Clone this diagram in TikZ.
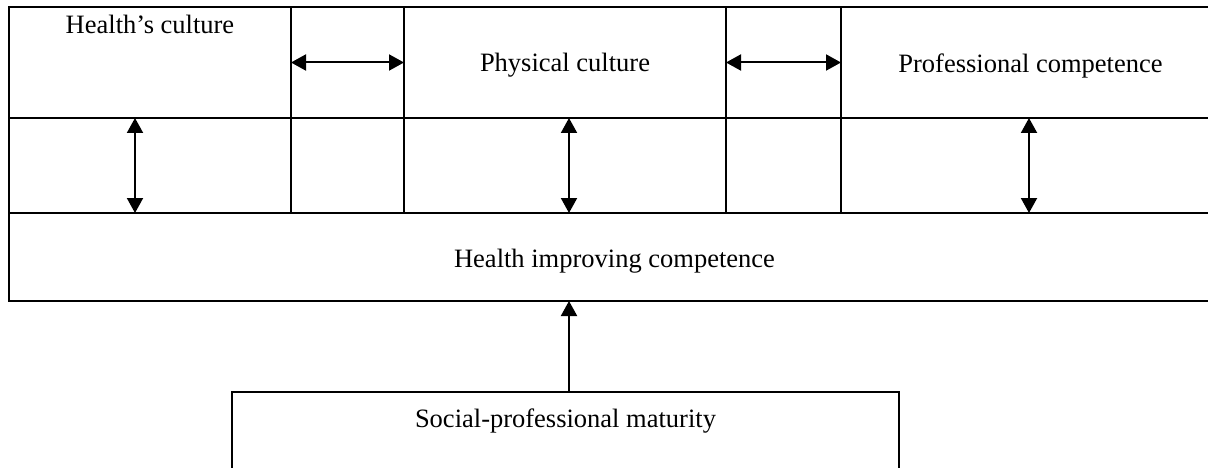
\documentclass[tikz,border=0pt]{standalone}
\usepackage{fontspec}
\setmainfont{Liberation Serif}
\usetikzlibrary{arrows.meta,positioning}
\tikzset{
	cell/.style={draw,rectangle,line width=2pt,inner sep=0pt,outer sep=0pt,anchor=north west},
	dbl/.style={{Triangle[length=15pt,width=16pt]}-{Triangle[length=15pt,width=16pt]},line width=2pt},
	up/.style={-{Triangle[length=15pt,width=16pt]},line width=2pt}
}

\begin{document}
\begin{tikzpicture}[x=1pt,y=-1pt,every node/.style={font=\fontsize{26.5}{30}\selectfont,inner sep=0pt}]
				\clip (0,0) rectangle (1208,468);
				% Arrow lines
				\coordinate (la) at (135,0);
				\coordinate (ma) at (569,0);
				\coordinate (ra) at (1029,0);

				% First row
				\node[cell,minimum width=282pt,minimum height=111pt] (hc) at (9,7) {};
				\node[below=7.7pt of hc.north] (hctext) {Health’s culture};
				\node[cell,minimum width=113pt,minimum height=111pt,right=0pt of hc] (ga) {};
				\node[cell,minimum width=322pt,minimum height=111pt,right=0pt of ga] (pc) {};
				\node[yshift=-3pt] (pctext) at (pc) {Physical culture};
				\node[cell,minimum width=115pt,minimum height=111pt,right=0pt of pc] (gb) {};
				\node[cell,minimum width=379pt,minimum height=111pt,right=0pt of gb] (prc) {};
				\node[yshift=-3pt] (prctext) at (prc) {Professional competence};

				% Second row
				\node[cell,minimum width=282pt,minimum height=95pt,below=0pt of hc] (ha) {};
				\node[cell,minimum width=113pt,minimum height=95pt,below=0pt of ga] (gc) {};
				\node[cell,minimum width=322pt,minimum height=95pt,below=0pt of pc] (pa) {};
				\node[cell,minimum width=115pt,minimum height=95pt,below=0pt of gb] (gd) {};
				\node[cell,minimum width=379pt,minimum height=95pt,below=0pt of prc] (pra) {};

				% Third row
				\node[cell,minimum width=1211pt,minimum height=88pt] (hic) at (ha.south west) {};
				\node[yshift=-4pt] (hictext) at (hic) {Health improving competence};

				% Bottom box
				\node[cell,minimum width=667pt,minimum height=120pt] (smb) at (232,392) {};
				\node[below=17pt of smb.north] (smtext) {Social-professional maturity};

				% Arrows
				\draw[dbl] (ga.west) -- (ga.east);
				\draw[dbl] (gb.west) -- (gb.east);
				\draw[dbl] (ha.north -| la) -- (ha.south -| la);
				\draw[dbl] (pa.north -| ma) -- (pa.south -| ma);
				\draw[dbl] (pra.north -| ra) -- (pra.south -| ra);
				\draw[up] (smb.north -| ma) -- (hic.south -| ma);
\end{tikzpicture}
\end{document}
